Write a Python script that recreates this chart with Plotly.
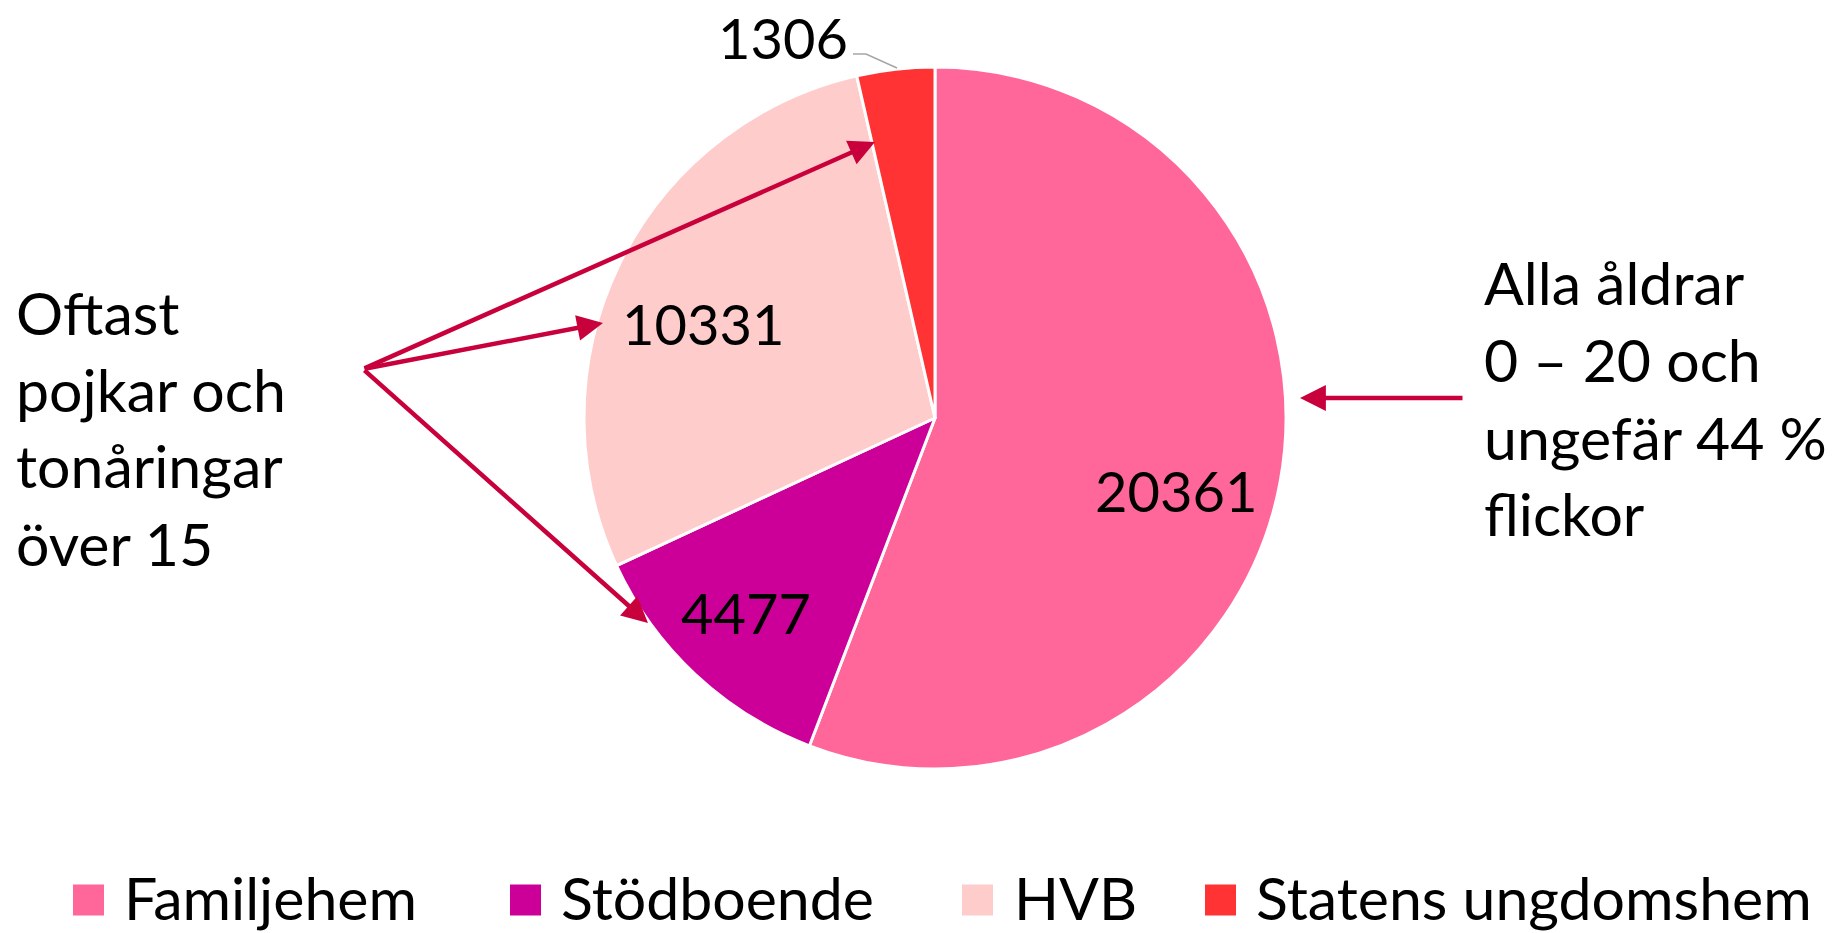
import plotly.graph_objects as go

# ---- data ----
categories = ["Familjehem", "Stödboende", "HVB", "Statens ungdomshem"]
values = [20361, 4477, 10331, 1306]
colors = ["#FF6699", "#CC0099", "#FFCCCC", "#FF3333"]
left_note = ["Oftast", "pojkar och", "tonåringar", "över 15"]
right_note = ["Alla åldrar", "0 – 20 och", "ungefär 44 %", "flickor"]

W, H = 1837, 933
FONT = "Lato"
FS_NUM = 56
FS_TXT = 59
ARROW = "#C8003C"


def px(x):
    return x / W


def py(y):
    return 1 - y / H


cx, cy, r = 935, 418, 351

fig = go.Figure()
fig.add_trace(go.Pie(
    labels=categories,
    values=values,
    sort=False,
    direction="clockwise",
    rotation=0,
    marker=dict(colors=colors, line=dict(color="white", width=3)),
    textinfo="none",
    hoverinfo="label+value+percent",
    showlegend=False,
    domain=dict(x=[px(cx - r), px(cx + r)], y=[py(cy + r), py(cy - r)]),
))

annotations = []
shapes = []

# value labels
label_pos = [(1176, 490), (746, 612), (703, 323), (783, 37)]
for v, (lx, ly) in zip(values, label_pos):
    annotations.append(dict(x=px(lx), y=py(ly), xref="paper", yref="paper",
                            text=str(v), showarrow=False,
                            font=dict(family=FONT, size=FS_NUM, color="black"),
                            xanchor="center", yanchor="middle"))

# leader line for the small slice
shapes.append(dict(type="path", xref="paper", yref="paper",
                   path=f"M {px(853)},{py(54)} L {px(866)},{py(54)} L {px(897)},{py(68)}",
                   line=dict(color="#A6A6A6", width=1.5)))

# side notes
left_y = [312, 389, 466, 543]
for t, yy in zip(left_note, left_y):
    annotations.append(dict(x=px(14), y=py(yy), xref="paper", yref="paper",
                            text=t, showarrow=False,
                            font=dict(family=FONT, size=FS_TXT, color="black"),
                            xanchor="left", yanchor="middle"))
right_y = [283, 360, 437, 513]
for t, yy in zip(right_note, right_y):
    annotations.append(dict(x=px(1482), y=py(yy), xref="paper", yref="paper",
                            text=t, showarrow=False,
                            font=dict(family=FONT, size=FS_TXT, color="black"),
                            xanchor="left", yanchor="middle"))

# arrows
tail = (363, 369)
for tip in [(875, 142), (603, 323), (648, 623)]:
    annotations.append(dict(x=px(tip[0]), y=py(tip[1]), xref="paper", yref="paper",
                            ax=tail[0] - tip[0], ay=tail[1] - tip[1],
                            text="", showarrow=True, arrowhead=2, arrowsize=1.15,
                            arrowwidth=4.5, arrowcolor=ARROW, standoff=0, startstandoff=0))
annotations.append(dict(x=px(1300), y=py(398), xref="paper", yref="paper",
                        ax=1464 - 1300, ay=0,
                        text="", showarrow=True, arrowhead=2, arrowsize=1.15,
                        arrowwidth=4.5, arrowcolor=ARROW, standoff=0, startstandoff=0))

# custom legend
leg_sq_x = [73, 510, 962, 1205]
leg_txt_x = [122, 559, 1012, 1254]
leg_y = 897
sq = 31
for c, name, sx, tx in zip(colors, categories, leg_sq_x, leg_txt_x):
    shapes.append(dict(type="rect", xref="paper", yref="paper",
                       x0=px(sx), x1=px(sx + sq), y0=py(leg_y + 3 + sq / 2), y1=py(leg_y + 3 - sq / 2),
                       fillcolor=c, line=dict(width=0)))
    annotations.append(dict(x=px(tx), y=py(leg_y), xref="paper", yref="paper",
                            text=name, showarrow=False,
                            font=dict(family=FONT, size=FS_TXT, color="black"),
                            xanchor="left", yanchor="middle"))

fig.update_layout(
    width=W, height=H,
    margin=dict(l=0, r=0, t=0, b=0),
    paper_bgcolor="white", plot_bgcolor="white",
    annotations=annotations, shapes=shapes,
    font=dict(family=FONT),
)

fig.write_html(
    "out.html",
    config={"displayModeBar": False},
    post_script="document.body.style.margin='0';document.body.style.overflow='hidden';",
)
